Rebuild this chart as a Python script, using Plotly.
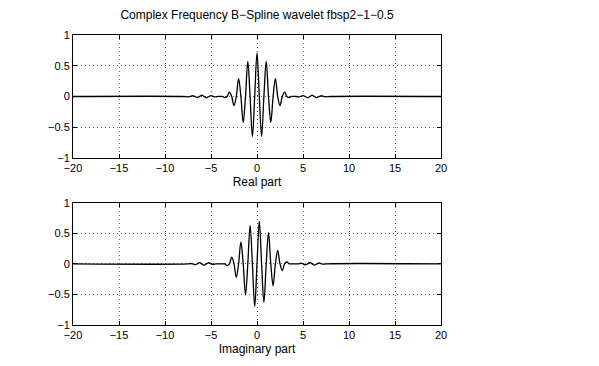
import plotly.graph_objects as go

# Real part: extrema and zero crossings
real_x = [-20, -8.0, -7.5, -7.25, -7.0, -6.75, -6.5, -6.25, -6.0, -5.75, -5.5, -5.25, -5.0, -4.75, -4.5, -4.25,
          -4.0, -3.75, -3.5, -3.25, -3.0, -2.75, -2.5, -2.25, -2.0, -1.75, -1.5, -1.25, -1.0, -0.75, -0.5, -0.25,
          0.0, 0.25, 0.5, 0.75, 1.0, 1.25, 1.5, 1.75, 2.0, 2.25, 2.5, 2.75, 3.0, 3.25, 3.5, 3.75, 4.0,
          4.25, 4.5, 4.75, 5.0, 5.25, 5.5, 5.75, 6.0, 6.25, 6.5, 6.75, 7.0, 7.25, 7.5, 8.0, 20]
real_y = [0, 0, -0.005, 0, 0.012, 0, -0.02, 0, 0.022, 0, -0.022, 0, 0.015, 0, -0.008, 0,
          0.0, 0, -0.02, 0, 0.07, 0, -0.15, 0, 0.29, 0, -0.42, 0, 0.57, 0, -0.65, 0,
          0.71, 0, -0.65, 0, 0.57, 0, -0.42, 0, 0.29, 0, -0.15, 0, 0.07, 0, -0.02, 0, 0.0,
          0, -0.008, 0, 0.015, 0, -0.022, 0, 0.022, 0, -0.02, 0, 0.012, 0, -0.005, 0, 0]

# Imaginary part: extrema and zero crossings
imag_x = [-20, -7.5, -7.25, -7.0, -6.75, -6.5, -6.25, -6.0, -5.75, -5.5, -5.25, -5.0, -4.75, -4.5,
          -4.0, -3.75, -3.5, -3.25, -3.0, -2.75, -2.5, -2.25, -2.0, -1.75, -1.5, -1.25, -1.0, -0.75, -0.5, -0.25,
          0.0, 0.25, 0.5, 0.75, 1.0, 1.25, 1.5, 1.75, 2.0, 2.25, 2.5, 2.75, 3.0, 3.25, 3.5, 3.75, 4.0,
          4.5, 4.75, 5.0, 5.25, 5.5, 5.75, 6.0, 6.25, 6.5, 6.75, 7.0, 7.25, 7.5, 20]
imag_y = [0, 0, 0.006, 0, -0.014, 0, 0.02, 0, -0.022, 0, 0.018, 0, -0.01, 0,
          0, 0, 0, -0.03, 0, 0.11, 0, -0.22, 0, 0.36, 0, -0.51, 0, 0.63, 0, -0.70,
          0, 0.70, 0, -0.63, 0, 0.51, 0, -0.36, 0, 0.22, 0, -0.11, 0, 0.03, 0, 0, 0,
          0, 0.01, 0, -0.018, 0, 0.022, 0, -0.02, 0, 0.014, 0, -0.006, 0, 0]

x_ticks = [-20, -15, -10, -5, 0, 5, 10, 15, 20]
y_ticks = [-1, -0.5, 0, 0.5, 1]
title_text = "Complex Frequency B\u2212Spline wavelet fbsp2\u22121\u22120.5"
xlabels = ["Real part", "Imaginary part"]

FONT = "Liberation Sans, Arial, Helvetica, sans-serif"

fig = go.Figure()
fig.add_trace(go.Scatter(x=real_x, y=real_y, mode="lines",
                         line=dict(color="black", width=1.3, shape="spline", smoothing=1.0),
                         xaxis="x", yaxis="y", showlegend=False))
fig.add_trace(go.Scatter(x=imag_x, y=imag_y, mode="lines",
                         line=dict(color="black", width=1.3, shape="spline", smoothing=1.0),
                         xaxis="x2", yaxis="y2", showlegend=False))

axis_common = dict(showline=True, linecolor="black", linewidth=1, mirror="ticks",
                   ticks="inside", ticklen=4, tickcolor="black", tickwidth=1,
                   showgrid=True, gridcolor="#666666", griddash="1px,3px", gridwidth=1,
                   zeroline=False, tickfont=dict(family=FONT, size=11, color="black"))

L, T = 65, 27
PW, PH = 368, 290
fig.update_layout(
    width=599, height=366,
    margin=dict(l=L, r=599 - L - PW, t=T, b=366 - T - PH),
    paper_bgcolor="white", plot_bgcolor="white",
    font=dict(family=FONT, size=11, color="black"),
    xaxis=dict(domain=[0, 1], range=[-20, 20], tickvals=x_ticks, anchor="y",
               title=dict(text=xlabels[0], font=dict(size=12), standoff=4), **axis_common),
    yaxis=dict(domain=[0.576, 1], range=[-1, 1], tickvals=y_ticks, anchor="x", **axis_common),
    xaxis2=dict(domain=[0, 1], range=[-20, 20], tickvals=x_ticks, anchor="y2",
                title=dict(text=xlabels[1], font=dict(size=12), standoff=4), **axis_common),
    yaxis2=dict(domain=[0, 0.4217], range=[-1, 1], tickvals=y_ticks, anchor="x2", **axis_common),
    title=dict(text=title_text, x=(L + PW / 2) / 599, xanchor="center", y=1 - 7 / 366, yanchor="middle",
               font=dict(family=FONT, size=12, color="black")),
)

fig.write_html("out.html")
